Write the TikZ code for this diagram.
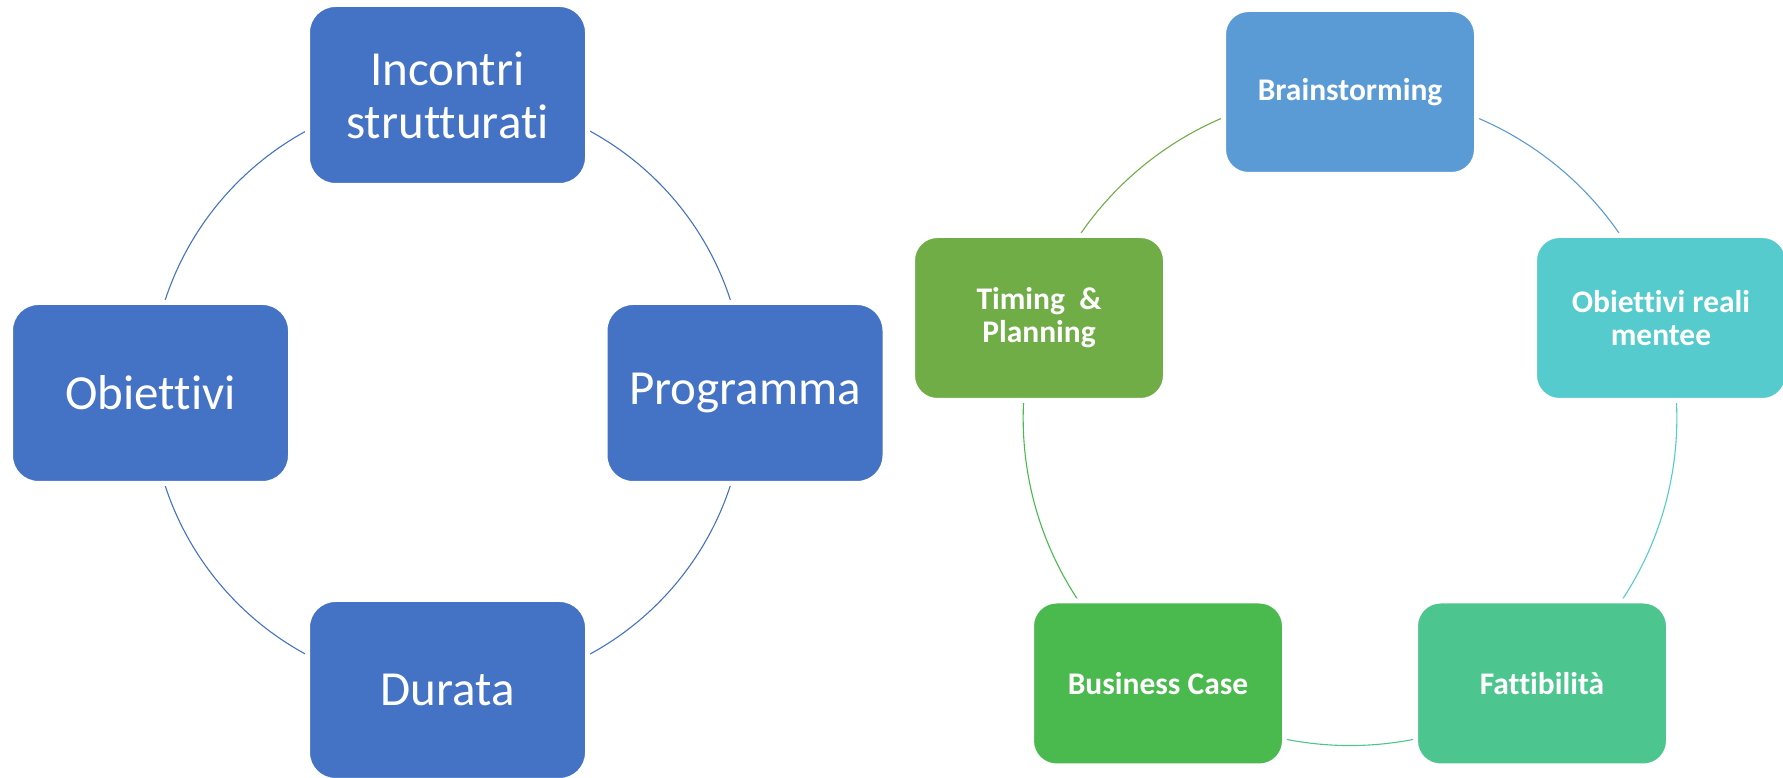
\documentclass[tikz,border=0pt]{standalone}
\usepackage{fontspec}
\setmainfont{Carlito}[Ligatures=NoCommon]
\usetikzlibrary{backgrounds}
\definecolor{cycblue}{HTML}{4472C4}
\definecolor{brainblue}{HTML}{5B9BD5}
\definecolor{realiteal}{HTML}{55CBCD}
\definecolor{fattgreen}{HTML}{4DC58F}
\definecolor{busgreen}{HTML}{4ABA4F}
\definecolor{timegreen}{HTML}{70AD47}
\tikzset{
    leftbox/.style={rectangle, rounded corners=28pt, fill=cycblue, draw=white,
        line width=5pt, text=white, align=center, inner sep=0pt,
        minimum width=280pt, minimum height=181pt,
        font=\fontsize{49}{53}\selectfont},
    rightbox/.style={rectangle, rounded corners=25pt, draw=white,
        line width=5pt, text=white, align=center, inner sep=0pt,
        minimum width=253pt, minimum height=165pt,
        font=\fontsize{31.5}{33}\selectfont\bfseries},
    ring/.style={line width=1.1pt, bend left=#1}
}

\begin{document}
\begin{tikzpicture}[x=1pt,y=1pt]
\useasboundingbox (0,0) rectangle (1783,778);

% left cycle
\node[leftbox] (incontri) at (447.5,683) {Incontri\\strutturati};
\node[leftbox] (programma) at (745,385) {Programma};
\node[leftbox] (durata) at (447.5,88) {Durata};
\node[leftbox] (obiettivi) at (150.5,385) {Obiettivi};

% right cycle
\node[rightbox, fill=brainblue] (brain) at (1350,686) {Brainstorming};
\node[rightbox, fill=realiteal] (reali) at (1661,460) {Obiettivi reali\\mentee};
\node[rightbox, fill=fattgreen] (fatt) at (1542,94.5) {Fattibilità};
\node[rightbox, fill=busgreen] (business) at (1158,94.5) {Business Case};
\node[rightbox, fill=timegreen] (timing) at (1039,460) {Timing \ \&\\Planning};

\begin{scope}[on background layer]
\draw[ring=45, cycblue] (incontri.center) to (programma.center);
\draw[ring=45, cycblue] (programma.center) to (durata.center);
\draw[ring=45, cycblue] (durata.center) to (obiettivi.center);
\draw[ring=45, cycblue] (obiettivi.center) to (incontri.center);

\draw[ring=36, looseness=0.94, brainblue] (brain.center) to (reali.center);
\draw[ring=36, looseness=0.94, realiteal] (reali.center) to (fatt.center);
\draw[ring=36, looseness=0.94, fattgreen] (fatt.center) to (business.center);
\draw[ring=36, looseness=0.94, busgreen] (business.center) to (timing.center);
\draw[ring=36, looseness=0.94, timegreen] (timing.center) to (brain.center);
\end{scope}
\end{tikzpicture}
\end{document}
